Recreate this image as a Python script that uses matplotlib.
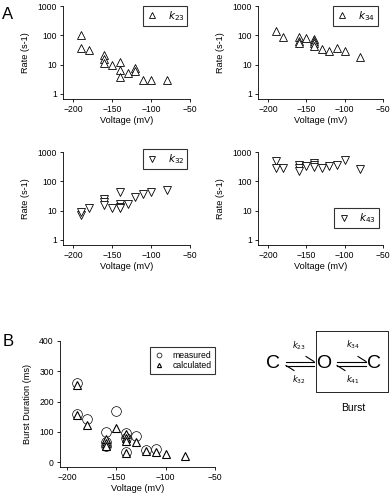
import matplotlib
matplotlib.use("Agg")
import matplotlib.pyplot as plt
from matplotlib.lines import Line2D

# rate constants
k23_v = [-190, -190, -180, -160, -160, -160, -150, -140, -140, -140, -130, -120, -120, -110, -100, -80]
k23 = [100, 38, 32, 22, 15, 11, 10, 12, 6.5, 3.8, 5, 8, 6, 3, 3, 3]

k34_v = [-190, -180, -160, -160, -160, -150, -140, -140, -140, -140, -130, -120, -110, -100, -80]
k34 = [140, 90, 90, 65, 55, 80, 75, 65, 55, 45, 33, 30, 37, 30, 18]

k32_v = [-190, -190, -180, -160, -160, -160, -150, -140, -140, -140, -140, -130, -120, -110, -100, -80]
k32 = [7, 9, 12, 25, 19, 16, 12, 45, 17, 13, 12, 17, 30, 38, 42, 52]

k43_v = [-190, -190, -180, -160, -160, -160, -150, -140, -140, -140, -130, -120, -110, -100, -80]
k43 = [475, 290, 290, 370, 290, 225, 330, 430, 370, 320, 290, 340, 370, 540, 270]

# burst durations, panel B
meas_v = [-190, -190, -180, -160, -160, -160, -150, -140, -140, -140, -130, -120, -110]
meas = [262, 160, 143, 101, 65, 52, 168, 95, 80, 33, 88, 39, 44]
calc_v = [-190, -190, -180, -160, -160, -160, -150, -140, -140, -140, -140, -130, -120, -110, -100, -80]
calc = [255, 157, 123, 77, 63, 52, 113, 92, 80, 70, 30, 66, 37, 33, 27, 21]

rate_ticks = [1, 10, 100, 1000]
volt_ticks = [-200, -150, -100, -50]

W, H = 392, 499
plt.rcParams['font.family'] = ['Liberation Sans', 'DejaVu Sans']
fig = plt.figure(figsize=(W / 100, H / 100), dpi=100)


def px_axes(x0, x1, y0, y1):
    return fig.add_axes([x0 / W, 1 - y1 / H, (x1 - x0) / W, (y1 - y0) / H])


def style(ax):
    for s in ['top', 'right']:
        ax.spines[s].set_visible(False)
    for s in ['left', 'bottom']:
        ax.spines[s].set_linewidth(0.6)
    ax.tick_params(direction='out', length=2.5, width=0.6, labelsize=6.2, pad=2)


def rate_panel(ax, v, k, marker, label, legloc, anchor):
    ax.plot(v, k, linestyle='none', marker=marker, markersize=6.2, mfc='white',
            mec='black', mew=0.6)
    ax.set_yscale('log')
    ax.set_ylim(0.675, 1000)
    ax.set_xlim(-213, -50)
    ax.set_yticks(rate_ticks)
    ax.set_yticklabels([str(t) for t in rate_ticks])
    ax.minorticks_off()
    ax.set_xticks(volt_ticks)
    ax.set_xlabel('Voltage (mV)', fontsize=6.6, labelpad=1.5)
    ax.set_ylabel('Rate (s-1)', fontsize=6.6, labelpad=5)
    style(ax)
    h = Line2D([], [], linestyle='none', marker=marker, markersize=4, mfc='white',
               mec='black', mew=0.6)
    leg = ax.legend([h], [label], loc=legloc, bbox_to_anchor=anchor, fontsize=7.5,
                    frameon=True, fancybox=False, borderaxespad=0, handletextpad=0.9,
                    borderpad=0.3, handlelength=1.2)
    leg.get_frame().set_edgecolor('black')
    leg.get_frame().set_linewidth(0.8)


ax1 = px_axes(63, 190, 6, 99)
rate_panel(ax1, k23_v, k23, '^', r'$\mathit{k}_{23}$', 'upper right', (0.98, 1.0))
ax2 = px_axes(258, 383, 6, 99)
rate_panel(ax2, k34_v, k34, '^', r'$\mathit{k}_{34}$', 'upper right', (0.96, 1.0))
ax3 = px_axes(63, 190, 152, 245)
rate_panel(ax3, k32_v, k32, 'v', r'$\mathit{k}_{32}$', 'upper right', (0.98, 1.03))
ax4 = px_axes(258, 383, 152, 245)
rate_panel(ax4, k43_v, k43, 'v', r'$\mathit{k}_{43}$', 'lower right', (0.97, 0.18))

# panel B
axb = px_axes(60, 215, 341, 467)
axb.plot(meas_v, meas, linestyle='none', marker='o', markersize=7, mfc='none',
         mec='black', mew=0.5, label='measured')
axb.plot(calc_v, calc, linestyle='none', marker='^', markersize=6, mfc='white',
         mec='black', mew=0.8, label='calculated')
axb.set_xlim(-207, -50)
axb.set_ylim(-16, 400)
axb.set_xticks(volt_ticks)
axb.set_yticks([0, 100, 200, 300, 400])
axb.set_xlabel('Voltage (mV)', fontsize=6.6, labelpad=1.5)
axb.set_ylabel('Burst Duration (ms)', fontsize=6.6, labelpad=5)
style(axb)
legb = axb.legend(loc='upper right', bbox_to_anchor=(1.0, 0.95), fontsize=6.2,
                  frameon=True, fancybox=False, borderaxespad=0, markerscale=0.5,
                  handletextpad=0.9, borderpad=0.4, labelspacing=0.2, handlelength=1.3)
legb.get_frame().set_edgecolor('black')
legb.get_frame().set_linewidth(0.8)

# overlay for panel letters and kinetic scheme
ov = fig.add_axes([0, 0, 1, 1], zorder=-1)
ov.set_xlim(0, W)
ov.set_ylim(H, 0)
ov.axis('off')
ov.text(8, 14, 'A', fontsize=12, ha='center', va='center')
ov.text(8, 341, 'B', fontsize=12, ha='center', va='center')

ov.text(273, 363, 'C', fontsize=14, ha='center', va='center')
ov.text(324, 363, 'O', fontsize=14, ha='center', va='center')
ov.text(374, 363, 'C', fontsize=14, ha='center', va='center')
for x1, x2 in [(286, 314), (337, 366)]:
    ov.plot([x1, x2], [361.5, 361.5], color='black', lw=0.8)
    ov.plot([x2 - 8, x2], [356.5, 361.5], color='black', lw=0.8)
    ov.plot([x1, x2], [365.5, 365.5], color='black', lw=0.8)
    ov.plot([x1, x1 + 8], [365.5, 370.5], color='black', lw=0.8)
ov.text(299, 346, r'$\mathit{k}_{23}$', fontsize=6, ha='center', va='center')
ov.text(299, 380, r'$\mathit{k}_{32}$', fontsize=6, ha='center', va='center')
ov.text(353, 345, r'$\mathit{k}_{34}$', fontsize=6, ha='center', va='center')
ov.text(353, 380, r'$\mathit{k}_{41}$', fontsize=6, ha='center', va='center')
ov.plot([316, 388, 388, 316, 316], [331, 331, 392, 392, 331], color='black', lw=0.6)
ov.text(353, 408, 'Burst', fontsize=7.5, ha='center', va='center')

fig.savefig('out.png', dpi=100)
